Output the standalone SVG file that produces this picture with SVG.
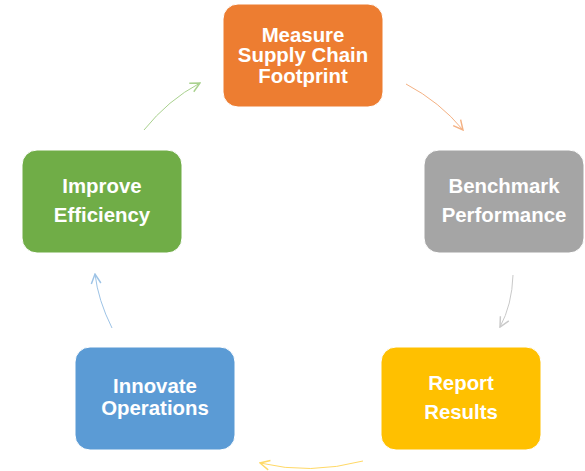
<svg xmlns="http://www.w3.org/2000/svg" width="585" height="471" viewBox="0 0 585 471">
<style>
.box{stroke:#ffffff;stroke-width:1}
.lbl{font-family:"Liberation Sans",Arial,sans-serif;font-weight:bold;font-size:20.4px;fill:#ffffff;text-anchor:middle}
.arc{fill:none;stroke-width:1}
</style>
<defs>
<marker id="mg" viewBox="0 0 10 10" refX="9" refY="5" markerWidth="12" markerHeight="12" markerUnits="userSpaceOnUse" orient="auto"><path d="M1,1 L9,5 L1,9" fill="none" stroke="#A9D18E" stroke-width="1.2"/></marker>
<marker id="mo" viewBox="0 0 10 10" refX="9" refY="5" markerWidth="12" markerHeight="12" markerUnits="userSpaceOnUse" orient="auto"><path d="M1,1 L9,5 L1,9" fill="none" stroke="#F4B183" stroke-width="1.2"/></marker>
<marker id="mx" viewBox="0 0 10 10" refX="9" refY="5" markerWidth="12" markerHeight="12" markerUnits="userSpaceOnUse" orient="auto"><path d="M1,1 L9,5 L1,9" fill="none" stroke="#C9C9C9" stroke-width="1.2"/></marker>
<marker id="my" viewBox="0 0 10 10" refX="9" refY="5" markerWidth="12" markerHeight="12" markerUnits="userSpaceOnUse" orient="auto"><path d="M1,1 L9,5 L1,9" fill="none" stroke="#FFD966" stroke-width="1.2"/></marker>
<marker id="mb" viewBox="0 0 10 10" refX="9" refY="5" markerWidth="12" markerHeight="12" markerUnits="userSpaceOnUse" orient="auto"><path d="M1,1 L9,5 L1,9" fill="none" stroke="#9DC3E6" stroke-width="1.2"/></marker>
</defs>
<g id="connectors">
<path class="arc" stroke="#A9D18E" d="M144,130 Q168,100 200,83" marker-end="url(#mg)"/>
<path class="arc" stroke="#F4B183" d="M406,84 Q440,102 463,130" marker-end="url(#mo)"/>
<path class="arc" stroke="#C9C9C9" d="M513,275 Q512,305 500,327" marker-end="url(#mx)"/>
<path class="arc" stroke="#FFD966" d="M363,461 Q310,475 260,463" marker-end="url(#my)"/>
<path class="arc" stroke="#9DC3E6" d="M112,328 Q98,300 95,274" marker-end="url(#mb)"/>
</g>
<g id="measure">
<rect class="box" x="223" y="4" width="160" height="103" rx="15" fill="#ED7D31"/>
<text class="lbl" x="303" y="42">Measure</text>
<text class="lbl" x="303" y="62">Supply Chain</text>
<text class="lbl" x="303" y="83">Footprint</text>
</g>
<g id="benchmark">
<rect class="box" x="424" y="150" width="160" height="103" rx="15" fill="#A5A5A5"/>
<text class="lbl" x="504" y="193">Benchmark</text>
<text class="lbl" x="504" y="222">Performance</text>
</g>
<g id="report">
<rect class="box" x="381" y="347" width="160" height="103" rx="15" fill="#FFC000"/>
<text class="lbl" x="461" y="390">Report</text>
<text class="lbl" x="461" y="419">Results</text>
</g>
<g id="innovate">
<rect class="box" x="75" y="347" width="160" height="103" rx="15" fill="#5B9BD5"/>
<text class="lbl" x="155" y="393">Innovate</text>
<text class="lbl" x="155" y="415">Operations</text>
</g>
<g id="improve">
<rect class="box" x="22" y="150" width="160" height="103" rx="15" fill="#70AD47"/>
<text class="lbl" x="102" y="193">Improve</text>
<text class="lbl" x="102" y="222">Efficiency</text>
</g>
</svg>
